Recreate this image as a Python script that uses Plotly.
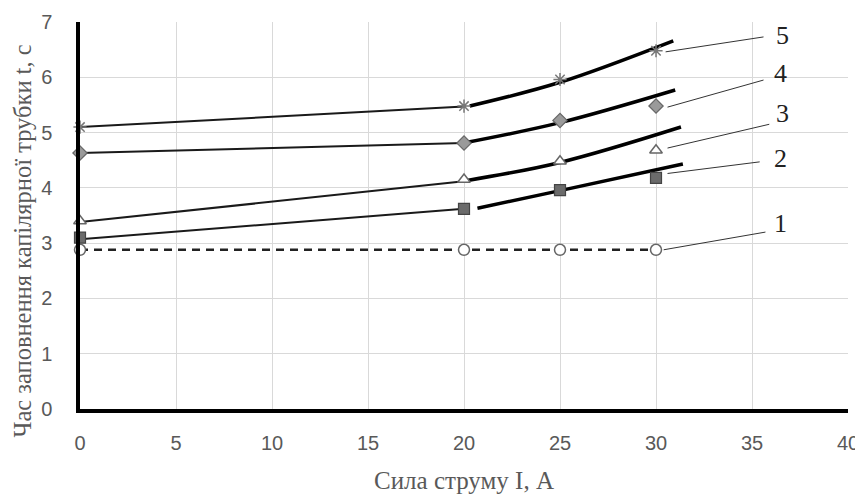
import plotly.graph_objects as go

# measured points (x = current, A; y = filling time, s)
x_pts = [0, 20, 25, 30]
s1 = [2.88, 2.88, 2.88, 2.88]
s2 = [3.10, 3.62, 3.96, 4.18]
s3 = [3.40, 4.15, 4.48, 4.68]
s4 = [4.63, 4.81, 5.22, 5.48]
s5 = [5.10, 5.48, 5.96, 6.48]

# thin straight connection 0 -> 20 (start values at x=0 and x=20)
thin_x = [0, 20]
thin2 = [3.07, 3.62]
thin3 = [3.38, 4.12]
thin4 = [4.63, 4.81]
thin5 = [5.10, 5.47]

# thick trend curves
tr2_x = [20.7, 25, 31.4]
tr2_y = [3.63, 3.95, 4.43]
tr3_x = [20.1, 25, 31.3]
tr3_y = [4.13, 4.46, 5.10]
tr4_x = [20.1, 25, 31.0]
tr4_y = [4.82, 5.18, 5.77]
tr5_x = [20.3, 25, 30.9]
tr5_y = [5.48, 5.91, 6.66]

# curve labels and leader lines
lab_text = ["1", "2", "3", "4", "5"]
lab_x = [36.5, 36.5, 36.6, 36.5, 36.6]
lab_y = [3.35, 4.54, 5.35, 6.07, 6.76]
lead_x0 = [30.4, 30.6, 30.6, 30.6, 30.5]
lead_y0 = [2.88, 4.26, 4.72, 5.46, 6.46]
lead_x1 = [35.7, 35.4, 35.9, 35.6, 35.6]
lead_y1 = [3.20, 4.47, 5.15, 5.95, 6.73]

x_ticks = [0, 5, 10, 15, 20, 25, 30, 35, 40]
y_ticks = [0, 1, 2, 3, 4, 5, 6, 7]

x_title = "Сила струму I, А"
y_title = "Час заповнення капілярної трубки t, с"

fig = go.Figure()

# leader lines
for i in range(len(lab_text)):
    fig.add_trace(go.Scatter(x=[lead_x0[i], lead_x1[i]], y=[lead_y0[i], lead_y1[i]],
                             mode="lines", line=dict(color="#333333", width=1),
                             hoverinfo="skip", showlegend=False))

# thin connections
for yy in [thin2, thin3, thin4, thin5]:
    fig.add_trace(go.Scatter(x=thin_x, y=yy, mode="lines",
                             line=dict(color="#1a1a1a", width=2), showlegend=False))

# thick trend curves
for tx, ty in [(tr2_x, tr2_y), (tr3_x, tr3_y), (tr4_x, tr4_y), (tr5_x, tr5_y)]:
    fig.add_trace(go.Scatter(x=tx, y=ty, mode="lines",
                             line=dict(color="#000000", width=3.5, shape="spline", smoothing=1.0),
                             showlegend=False))

# series 1 dashed
fig.add_trace(go.Scatter(x=x_pts, y=s1, mode="lines+markers",
                         line=dict(color="#222222", width=2.5, dash="8px,6px"),
                         marker=dict(symbol="circle", size=11, color="white",
                                     line=dict(color="#666666", width=1.5)),
                         cliponaxis=False, showlegend=False))

# markers
fig.add_trace(go.Scatter(x=x_pts, y=s2, mode="markers",
                         marker=dict(symbol="square", size=11, color="#6b6b6b",
                                     line=dict(color="#444444", width=1.2)),
                         cliponaxis=False, showlegend=False))
fig.add_trace(go.Scatter(x=x_pts, y=s3, mode="markers",
                         marker=dict(symbol="triangle-up", size=11, color="white",
                                     line=dict(color="#666666", width=1.5)),
                         cliponaxis=False, showlegend=False))
fig.add_trace(go.Scatter(x=x_pts, y=s4, mode="markers",
                         marker=dict(symbol="diamond", size=11, color="#9a9a9a",
                                     line=dict(color="#666666", width=1.2)),
                         cliponaxis=False, showlegend=False))
fig.add_trace(go.Scatter(x=x_pts, y=s5, mode="markers",
                         marker=dict(symbol="asterisk-open", size=11, color="#777777",
                                     line=dict(color="#666666", width=1.5)),
                         cliponaxis=False, showlegend=False))

for i in range(len(lab_text)):
    fig.add_annotation(x=lab_x[i], y=lab_y[i], text=lab_text[i], showarrow=False,
                       font=dict(family="Liberation Serif, serif", size=26, color="#222222"))

# axis titles as annotations for precise placement
fig.add_annotation(xref="paper", yref="paper", x=0.5, y=-0.186, text=x_title,
                   showarrow=False, xanchor="center", yanchor="middle",
                   font=dict(family="Liberation Serif, serif", size=25, color="#595959"))
fig.add_annotation(xref="paper", yref="paper", x=-0.0755, y=0.433, text=y_title,
                   showarrow=False, xanchor="center", yanchor="middle", textangle=-90,
                   font=dict(family="Liberation Serif, serif", size=24.5, color="#595959"))

# the page body adds an 8px offset, so the figure is 8px smaller and margins shifted
fig.update_layout(
    width=855, height=487,
    margin=dict(l=72, r=15, t=14, b=86),
    plot_bgcolor="white", paper_bgcolor="white",
    showlegend=False,
)
tick_font = dict(family="Liberation Sans, Arial, sans-serif", size=20, color="#595959")
fig.update_xaxes(
    range=[0, 40], tickvals=x_ticks, ticktext=[str(v) for v in x_ticks],
    showgrid=True, gridcolor="#d9d9d9", gridwidth=1,
    showline=True, linecolor="black", linewidth=3.5, zeroline=False,
    ticks="", ticklabelstandoff=13, automargin=False, ticklabeloverflow="allow",
    tickfont=tick_font,
)
fig.update_yaxes(
    range=[0, 7], tickvals=y_ticks, ticktext=[str(v) for v in y_ticks],
    showgrid=True, gridcolor="#d9d9d9", gridwidth=1,
    showline=True, linecolor="black", linewidth=3.5, zeroline=False,
    ticks="", ticklabelstandoff=20, automargin=False, ticklabeloverflow="allow",
    tickfont=tick_font,
)

fig.write_html("out.html")
